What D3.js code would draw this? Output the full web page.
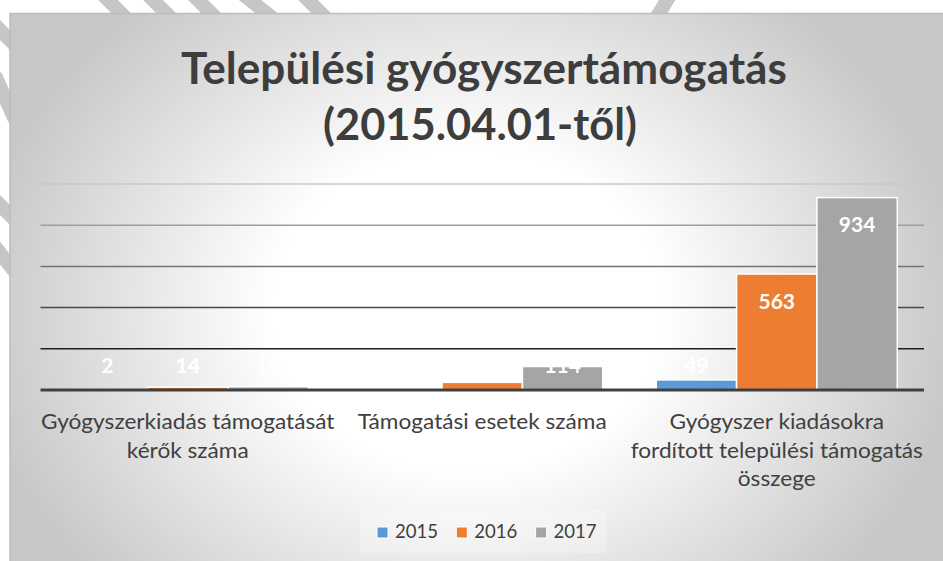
<!DOCTYPE html>
<html>
<head>
<meta charset="utf-8">
<script src="https://cdn.jsdelivr.net/npm/d3@7/dist/d3.min.js"></script>
<style>
  body { margin: 0; background: #fff; }
  text { font-family: Lato, "Open Sans", sans-serif; }
</style>
</head>
<body>
<svg id="chart" width="943" height="561"></svg>
<script>
// data
const titleLines = ["Települési gyógyszertámogatás", "(2015.04.01-től)"];
const categories = [
  "Gyógyszerkiadás támogatását\nkérők száma",
  "Támogatási esetek száma",
  "Gyógyszer kiadásokra\nfordított települési támogatás\nösszege"
];
const years = ["2015", "2016", "2017"];
const v2015 = [2, 0, 49];
const v2016 = [14, 37, 563];
const v2017 = [16, 114, 934];
const yTicks = [0, 200, 400, 600, 800, 1000];

const colors = ["#5b9bd5", "#ed7d31", "#a5a5a5"];
const series = [v2015, v2016, v2017];

const W = 943, H = 561;
const svg = d3.select("#chart");

// background: elliptical radial gradient, white in the middle
const defs = svg.append("defs");
const grad = defs.append("radialGradient")
  .attr("id", "bg")
  .attr("gradientUnits", "userSpaceOnUse")
  .attr("cx", 0).attr("cy", 0).attr("r", 500)
  .attr("gradientTransform", "translate(467,310) scale(1,0.82)");
grad.append("stop").attr("offset", "39%").attr("stop-color", "#ffffff");
grad.append("stop").attr("offset", "91%").attr("stop-color", "#cfcfcf");
grad.append("stop").attr("offset", "100%").attr("stop-color", "#c7c7c7");

// grey diagonal strokes behind the frame (leftovers from the page)
const deco = svg.append("g").attr("stroke", "#c6c6c6").attr("stroke-width", 14).attr("fill", "none");
[[100, -8, 128, 20], [145, -8, 173, 20], [190, -8, 218, 20], [240, -8, 275, 20], [300, -8, 328, 20], [672, -8, 655, 20]]
  .forEach(d => deco.append("line").attr("x1", d[0]).attr("y1", d[1]).attr("x2", d[2]).attr("y2", d[3]));
[[-10, 20, 20, 50], [-10, 195, 25, 230], [-10, 240, 25, 285], [-5, 75, 15, 120]]
  .forEach(d => deco.append("line").attr("x1", d[0]).attr("y1", d[1]).attr("x2", d[2]).attr("y2", d[3]));

svg.append("rect")
  .attr("x", 10).attr("y", 13.5)
  .attr("width", W).attr("height", H)
  .attr("fill", "url(#bg)")
  .attr("stroke", "#bdbdbd").attr("stroke-width", 1.5);

// squeeze a text horizontally so it reaches the target width (narrow Calibri look)
function squeeze(sel, cx, target) {
  const len = sel.node().getComputedTextLength();
  sel.attr("transform", `translate(${cx},0) scale(${target / len},1)`);
}

// title
const t1 = svg.append("text")
  .attr("x", 0).attr("y", 84)
  .attr("text-anchor", "middle")
  .attr("font-size", 44).attr("font-weight", 700)
  .attr("fill", "#3d3d3d")
  .text(titleLines[0]);
squeeze(t1, 484, 606);
const t2 = svg.append("text")
  .attr("x", 0).attr("y", 140)
  .attr("text-anchor", "middle")
  .attr("font-size", 44).attr("font-weight", 700)
  .attr("fill", "#3d3d3d")
  .text(titleLines[1]);
squeeze(t2, 480, 314);

// scales
const x0 = d3.scaleBand().domain(categories).range([40.5, 924]);
const x1 = d3.scaleBand().domain(years).range([0, x0.bandwidth()]).paddingOuter(0.333);
const y = d3.scaleLinear().domain([0, 1000]).range([390, 184]);
const gridColor = d3.scaleLinear().domain([200, 1000]).range(["#1e1e1e", "#c8c8c8"]);

// gridlines
svg.append("g")
  .selectAll("line")
  .data(yTicks.filter(d => d > 0))
  .join("line")
  .attr("x1", 40.5).attr("x2", 924)
  .attr("y1", d => y(d)).attr("y2", d => y(d))
  .attr("stroke", d => gridColor(d))
  .attr("stroke-width", 1.5);

// bars
const groups = svg.append("g")
  .selectAll("g")
  .data(categories)
  .join("g")
  .attr("transform", d => `translate(${x0(d)},0)`);

groups.selectAll("rect")
  .data((c, i) => years.map((yr, j) => ({ yr, v: series[j][i], color: colors[j] })))
  .join("rect")
  .attr("x", d => x1(d.yr))
  .attr("width", x1.bandwidth())
  .attr("y", d => y(d.v))
  .attr("height", d => y(0) - y(d.v))
  .attr("fill", d => d.color)
  .attr("stroke", "#fff")
  .attr("stroke-width", d => d.v > 0 ? 1.5 : 0);

// baseline
svg.append("line")
  .attr("x1", 40.5).attr("x2", 924)
  .attr("y1", y(0)).attr("y2", y(0))
  .attr("stroke", "#404040").attr("stroke-width", 3);

// data labels (white, inside end)
groups.selectAll("text.lbl")
  .data((c, i) => years.map((yr, j) => ({ yr, v: series[j][i] })))
  .join("text")
  .attr("class", "lbl")
  .attr("x", d => x1(d.yr) + x1.bandwidth() / 2)
  .attr("y", d => Math.min(y(d.v) + 27, 365) + 7.5)
  .attr("text-anchor", "middle")
  .attr("font-size", 21).attr("font-weight", 700)
  .attr("fill", "#fff")
  .text(d => d.v);

// category labels, wrapped as in the picture
const catSize = 21.5;
const catText = svg.append("g")
  .selectAll("text")
  .data(categories)
  .join("text")
  .attr("x", 0)
  .attr("y", 429)
  .attr("text-anchor", "middle")
  .attr("font-size", catSize)
  .attr("fill", "#404040");
catText.each(function(d) {
  d.split("\n").forEach((line, k) => {
    d3.select(this).append("tspan")
      .attr("x", 0)
      .attr("dy", k === 0 ? 0 : 28.7)
      .text(line);
  });
});
// squeeze so "Támogatási esetek száma" is as wide as in the picture
const probe = catText.filter((d, i) => i === 1).node().getComputedTextLength();
const k = 249 / probe;
catText.attr("transform", d => `translate(${x0(d) + x0.bandwidth() / 2},0) scale(${k},1)`);

// legend
const legend = svg.append("g");
legend.append("rect")
  .attr("x", 360).attr("y", 510).attr("width", 247).attr("height", 43)
  .attr("fill", "#fff").attr("opacity", 0.25);
let lx = 377;
years.forEach((yr, j) => {
  legend.append("rect")
    .attr("x", lx).attr("y", 527).attr("width", 11).attr("height", 11)
    .attr("fill", colors[j]).attr("stroke", "#fff").attr("stroke-width", 1);
  const tx = legend.append("text")
    .attr("x", 0).attr("y", 538.5)
    .attr("font-size", 19.5)
    .attr("fill", "#404040")
    .text(yr);
  const len = tx.node().getComputedTextLength();
  tx.attr("transform", `translate(${lx + 18},0) scale(${43 / len},1)`);
  lx += 79.3;
});
</script>
</body>
</html>
